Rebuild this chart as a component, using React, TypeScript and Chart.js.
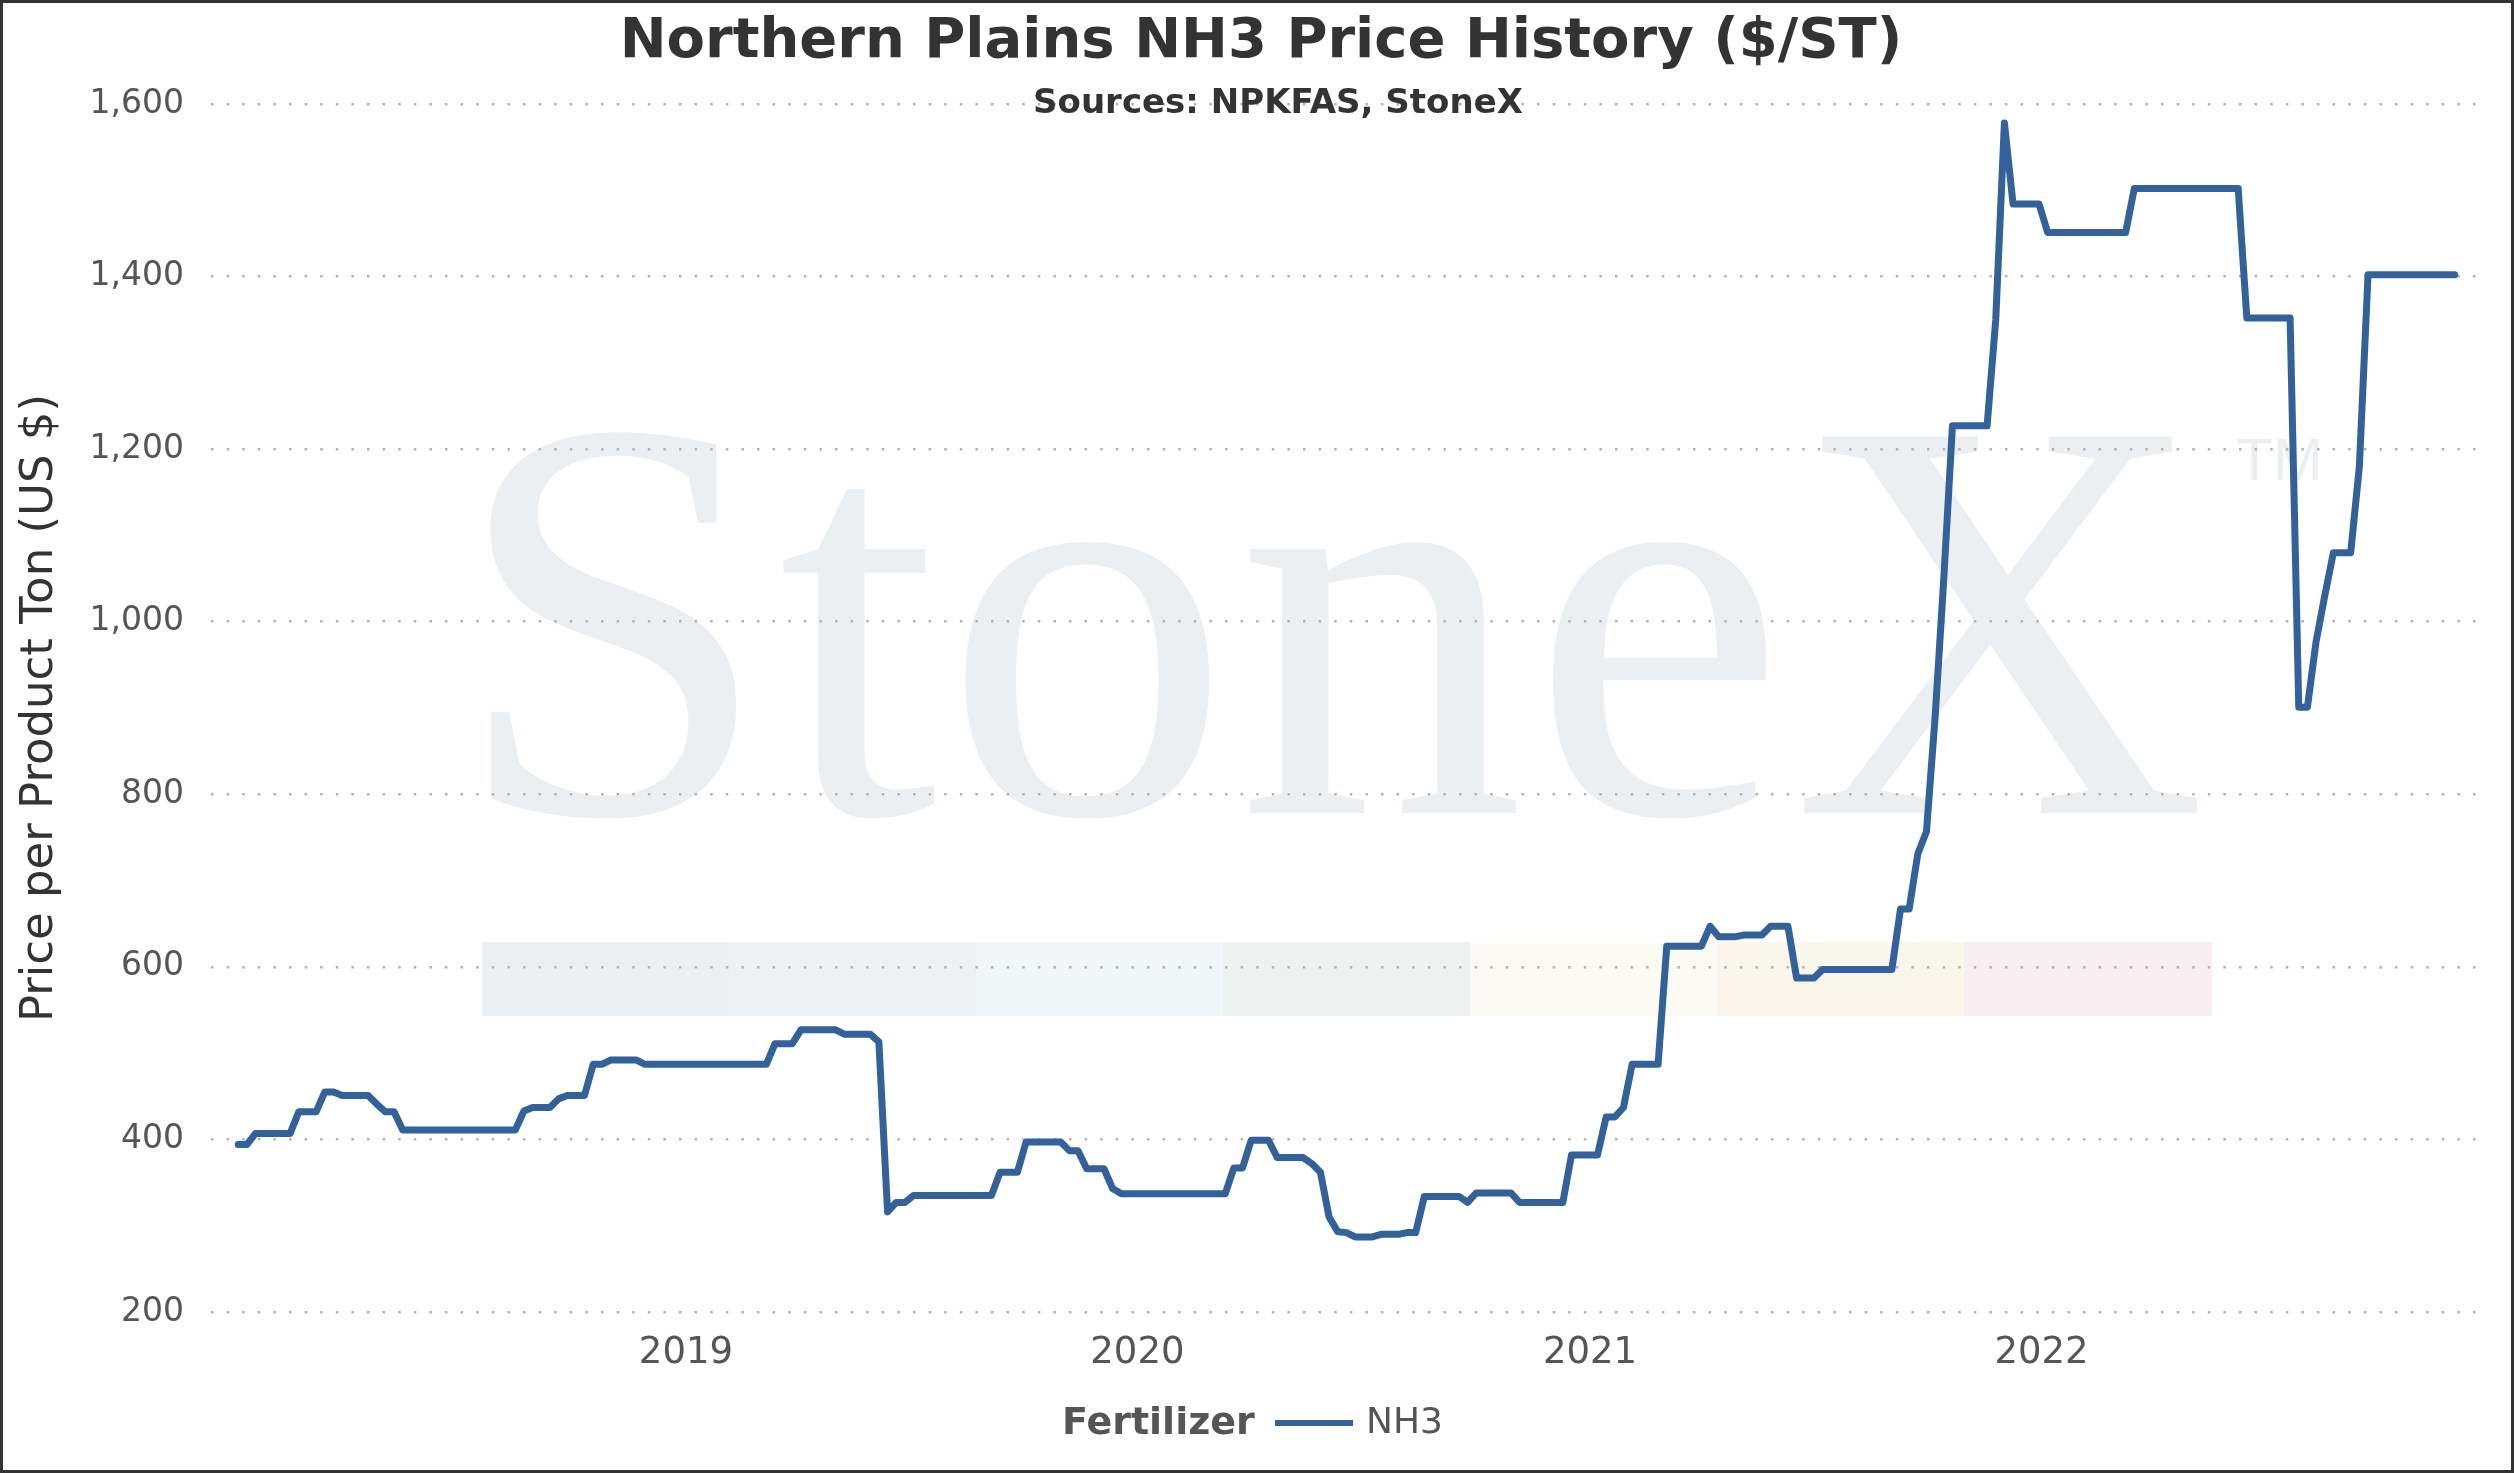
import React, { useEffect, useRef } from 'react';
import { Chart, registerables } from 'chart.js';

Chart.register(...registerables);

const W = 2514;
const H = 1473;
const FONT = '"DejaVu Sans", Verdana, sans-serif';

const TITLE = 'Northern Plains NH3 Price History ($/ST)';
const SUBTITLE = 'Sources: NPKFAS, StoneX';
const Y_TITLE = 'Price per Product Ton (US $)';
const LEGEND_TITLE = 'Fertilizer';
const SERIES_NAME = 'NH3';

// weekly (Thursday) dates where the price line turns, with the price read there
const dates = [
  '2018-01-04', '2018-01-11', '2018-01-18', '2018-02-15', '2018-02-22', '2018-03-08',
  '2018-03-15', '2018-03-22', '2018-03-29', '2018-04-19', '2018-04-26', '2018-05-03',
  '2018-05-10', '2018-05-17', '2018-08-16', '2018-08-23', '2018-08-30', '2018-09-13',
  '2018-09-20', '2018-09-27', '2018-10-11', '2018-10-18', '2018-10-25', '2018-11-01',
  '2018-11-22', '2018-11-29', '2019-03-07', '2019-03-14', '2019-03-28', '2019-04-04',
  '2019-05-02', '2019-05-09', '2019-05-30', '2019-06-06', '2019-06-13', '2019-06-20',
  '2019-06-27', '2019-07-04', '2019-09-05', '2019-09-12', '2019-09-26', '2019-10-03',
  '2019-10-31', '2019-11-07', '2019-11-14', '2019-11-21', '2019-12-05', '2019-12-12',
  '2019-12-19', '2020-03-12', '2020-03-19', '2020-03-26', '2020-04-02', '2020-04-16',
  '2020-04-23', '2020-05-14', '2020-05-21', '2020-05-28', '2020-06-04', '2020-06-11',
  '2020-06-18', '2020-06-25', '2020-07-09', '2020-07-16', '2020-07-30', '2020-08-06',
  '2020-08-13', '2020-08-20', '2020-09-17', '2020-09-24', '2020-10-01', '2020-10-29',
  '2020-11-05', '2020-12-10', '2020-12-17', '2021-01-07', '2021-01-14', '2021-01-21',
  '2021-01-28', '2021-02-04', '2021-02-25', '2021-03-04', '2021-04-01', '2021-04-08',
  '2021-04-15', '2021-04-29', '2021-05-06', '2021-05-20', '2021-05-27', '2021-06-10',
  '2021-06-17', '2021-07-01', '2021-07-08', '2021-09-02', '2021-09-09', '2021-09-16',
  '2021-09-23', '2021-09-30', '2021-10-07', '2021-10-14', '2021-10-21', '2021-11-18',
  '2021-11-25', '2021-12-02', '2021-12-09', '2021-12-30', '2022-01-06', '2022-03-10',
  '2022-03-17', '2022-06-09', '2022-06-16', '2022-07-21', '2022-07-28', '2022-08-04',
  '2022-08-11', '2022-08-18', '2022-08-25', '2022-09-08', '2022-09-15', '2022-09-22',
  '2022-12-01',
];

const prices = [
  394, 394, 407, 407, 432, 432,
  455, 455, 451, 451, 441, 432,
  432, 411, 411, 433, 437, 437,
  447, 451, 451, 487, 487, 492,
  492, 487, 487, 511, 511, 527,
  527, 522, 522, 513, 316, 327,
  327, 335, 335, 362, 362, 397,
  397, 387, 387, 366, 366, 343,
  337, 337, 367, 367, 399, 399,
  379, 379, 372, 362, 310, 293,
  292, 287, 287, 290, 290, 292,
  292, 334, 334, 327, 338, 338,
  327, 327, 382, 382, 426, 426,
  437, 487, 487, 624, 624, 647,
  635, 635, 637, 637, 647, 647,
  587, 587, 597, 597, 667, 667,
  731, 757, 890, 1050, 1227, 1227,
  1350, 1578, 1484, 1484, 1451, 1451,
  1502, 1502, 1352, 1352, 901, 901,
  977, 1030, 1080, 1080, 1180, 1402,
  1402,
];

const yearTicks = ['2019-01-01', '2020-01-01', '2021-01-01', '2022-01-01'];
const X_MIN = '2017-12-13';
const X_MAX = '2022-12-28';
const Y_MIN = 200;
const Y_MAX = 1600;
const Y_STEP = 200;

const LINE_COLOR = '#33619a';
const BAND_COLORS = ['#eceff2', '#edf1f4', '#f1f6f9', '#edf2f0', '#fbfbf3', '#faf6ec', '#f8edf0'];

const decor = {
  id: 'decor',
  beforeDraw(chart: Chart) {
    const { ctx } = chart;
    ctx.save();
    ctx.fillStyle = '#ffffff';
    ctx.fillRect(0, 0, W, H);
    // faint coloured band of the watermark
    BAND_COLORS.forEach((c, i) => {
      ctx.fillStyle = c;
      ctx.fillRect(482 + i * 247, 942, 248, 74);
    });
    ctx.fillStyle = '#eceff2';
    ctx.textBaseline = 'alphabetic';
    ctx.textAlign = 'left';
    ctx.font = '575px "Liberation Serif", serif';
    (ctx as any).letterSpacing = '6px';
    ctx.fillText('StoneX', 452, 813);
    (ctx as any).letterSpacing = '0px';
    ctx.font = '60px "Liberation Sans", sans-serif';
    ctx.fillText('TM', 2236, 480);
    ctx.restore();
  },
  afterDraw(chart: Chart) {
    const { ctx } = chart;
    ctx.save();
    ctx.textBaseline = 'alphabetic';
    ctx.textAlign = 'center';
    ctx.fillStyle = '#333333';
    ctx.font = `bold 56px ${FONT}`;
    ctx.fillText(TITLE, 1261, 57);
    ctx.font = `bold 34px ${FONT}`;
    ctx.fillText(SUBTITLE, 1278, 113);

    // legend
    ctx.textBaseline = 'middle';
    ctx.textAlign = 'left';
    ctx.fillStyle = '#555555';
    ctx.font = `bold 38px ${FONT}`;
    ctx.fillText(LEGEND_TITLE, 1062, 1424);
    ctx.strokeStyle = LINE_COLOR;
    ctx.lineWidth = 6;
    ctx.beginPath();
    ctx.moveTo(1275, 1423);
    ctx.lineTo(1353, 1423);
    ctx.stroke();
    ctx.font = `36px ${FONT}`;
    ctx.fillText(SERIES_NAME, 1366, 1424);

    // frame
    ctx.strokeStyle = '#333333';
    ctx.lineWidth = 3;
    ctx.strokeRect(1.5, 1.5, W - 3, H - 3);
    ctx.restore();
  },
};

const App: React.FC = () => {
  const canvasRef = useRef<HTMLCanvasElement>(null);
  const chartRef = useRef<Chart>();

  useEffect(() => {
    if (!canvasRef.current) return;
    const ctx = canvasRef.current.getContext('2d');
    if (!ctx) return;
    if (chartRef.current) chartRef.current.destroy();

    const points = dates.map((d, i) => ({ x: Date.parse(d), y: prices[i] }));

    chartRef.current = new Chart(ctx, {
      type: 'line',
      data: {
        datasets: [{
          label: SERIES_NAME,
          data: points,
          borderColor: LINE_COLOR,
          borderWidth: 7,
          pointRadius: 0,
          tension: 0,
          borderCapStyle: 'round',
          borderJoinStyle: 'round',
        }],
      },
      options: {
        animation: false,
        responsive: false,
        devicePixelRatio: 1,
        layout: { padding: { top: 104, left: 9, right: 26, bottom: 71 } },
        plugins: {
          legend: { display: false },
          title: { display: false },
          tooltip: { enabled: false },
        },
        scales: {
          x: {
            type: 'linear',
            min: Date.parse(X_MIN),
            max: Date.parse(X_MAX),
            grid: { display: false },
            border: { display: false },
            afterBuildTicks: (scale: any) => {
              scale.ticks = yearTicks.map((d) => ({ value: Date.parse(d) }));
            },
            afterFit: (scale: any) => { scale.height = 90; },
            ticks: {
              autoSkip: false,
              maxRotation: 0,
              padding: 11,
              color: '#555555',
              font: { family: FONT, size: 37 },
              callback: (v: any) => String(new Date(Number(v)).getUTCFullYear()),
            },
          },
          y: {
            min: Y_MIN,
            max: Y_MAX,
            grid: { color: '#b3b3b3', lineWidth: 2.5, drawTicks: false },
            border: { display: false, dash: [2.5, 13.1] },
            afterFit: (scale: any) => { scale.width = 202; },
            ticks: {
              stepSize: Y_STEP,
              padding: 27,
              color: '#555555',
              font: { family: FONT, size: 33 },
              callback: (v: any) => Number(v).toLocaleString('en-US'),
            },
            title: {
              display: true,
              text: Y_TITLE,
              color: '#333333',
              padding: { top: 4, bottom: 0 },
              font: { family: FONT, size: 45 },
            },
          },
        },
      },
      plugins: [decor],
    });

    return () => {
      if (chartRef.current) {
        chartRef.current.destroy();
        chartRef.current = undefined;
      }
    };
  }, []);

  return (
    <div style={{ position: 'absolute', left: 0, top: 0, width: W, height: H, background: '#fff' }}>
      <canvas ref={canvasRef} width={W} height={H} style={{ width: W, height: H, display: 'block' }} />
    </div>
  );
};

export default App;
